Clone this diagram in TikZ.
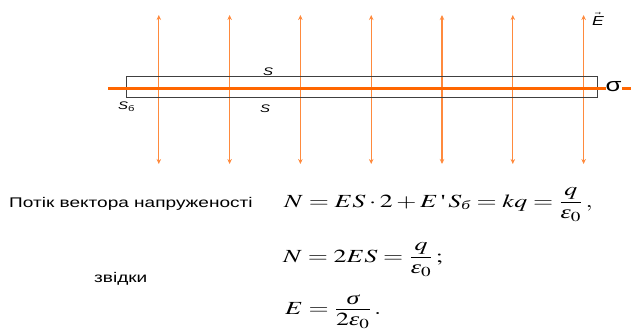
\documentclass[tikz,border=0pt]{standalone}
\usepackage{mathptmx}
\usepackage{graphicx}
\usepackage{fontspec}
\setmainfont{Liberation Serif}
\setsansfont{Liberation Sans}
\newfontfamily\widesans[FakeStretch=1.36]{Liberation Sans}
\newfontfamily\wideserif[FakeStretch=1.4]{Liberation Serif}
\usetikzlibrary{arrows.meta}
\definecolor{fieldor}{HTML}{FF8A3D}
\definecolor{plateor}{HTML}{FF6600}
\definecolor{boxgray}{HTML}{404040}
\newcommand{\Eps}{\mbox{\itshape ε}}
\newcommand{\Sig}{\mbox{\itshape σ}}
\newcommand{\eqset}{\fontdimen8\textfont2=9.6pt \fontdimen11\textfont2=11.2pt }
\newcommand{\wideq}[1]{\scalebox{1.4}[1]{$\displaystyle\eqset #1$}}
\tikzset{
  fieldline/.style={draw=fieldor, line width=1.2pt, {Stealth[length=5pt,width=4.5pt]}-{Stealth[length=5pt,width=4.5pt]}},
  plate/.style={draw=plateor, line width=2.6pt},
  gbox/.style={draw=boxgray, line width=0.8pt},
  lbl/.style={font=\widesans\itshape\fontsize{11}{13}\selectfont, inner sep=0pt, anchor=base west},
  txt/.style={font=\widesans\fontsize{14}{16}\selectfont, inner sep=0pt, anchor=base west},
  eq/.style={font=\fontsize{18.5}{22}\selectfont, inner sep=0pt, anchor=base west}
}
\begin{document}
\begin{tikzpicture}[x=1pt,y=-1pt]
\useasboundingbox (0,0) rectangle (631,333);
% field lines
\foreach \i in {0,...,6}{
  \coordinate (t\i) at ({158.8+\i*70.8},15);
  \coordinate (b\i) at ({158.8+\i*70.8},164);
  \draw[fieldline] (b\i) -- (t\i);
}
% Gaussian box
\draw[gbox] (126,76.6) rectangle (597,97.8);
% charged plane
\coordinate (pl) at (108,88.3);
\coordinate (pr) at (631,88.3);
\draw[plate] (pl) -- (pr);
\node[font=\widesans\fontsize{19}{21}\selectfont, inner sep=0pt, anchor=base west, fill=white] (sig) at (605.5,91) {σ};
% labels
\node[lbl] (stop) at (263,75) {S};
\node[lbl] (sbot) at (260,112) {S};
\node[lbl] (sside) at (118,109.5) {S\textsubscript{\upshape б}};
\node[lbl, font=\widesans\itshape\fontsize{13}{15}\selectfont] (evec) at (592,25) {$\vec{\mbox{E}}$};
% text
\node[txt] (flux) at (9,207) {Потік вектора напруженості};
\node[txt] (whence) at (94,282) {звідки};
% equations
\node[eq] (eq1) at (284,207) {\wideq{N=ES\cdot 2+E\,\mbox{\textquotesingle}\,S_{\mbox{\fontsize{12.5}{14}\selectfont\itshape б}}=kq=\frac{q}{\Eps_0}\,,}};
\node[eq] (eq2) at (283,262) {\wideq{N=2ES=\frac{q}{\Eps_0}\,;}};
\node[eq] (eq3) at (285,314) {\wideq{E=\frac{\Sig}{2\Eps_0}\,.}};
\end{tikzpicture}
\end{document}
